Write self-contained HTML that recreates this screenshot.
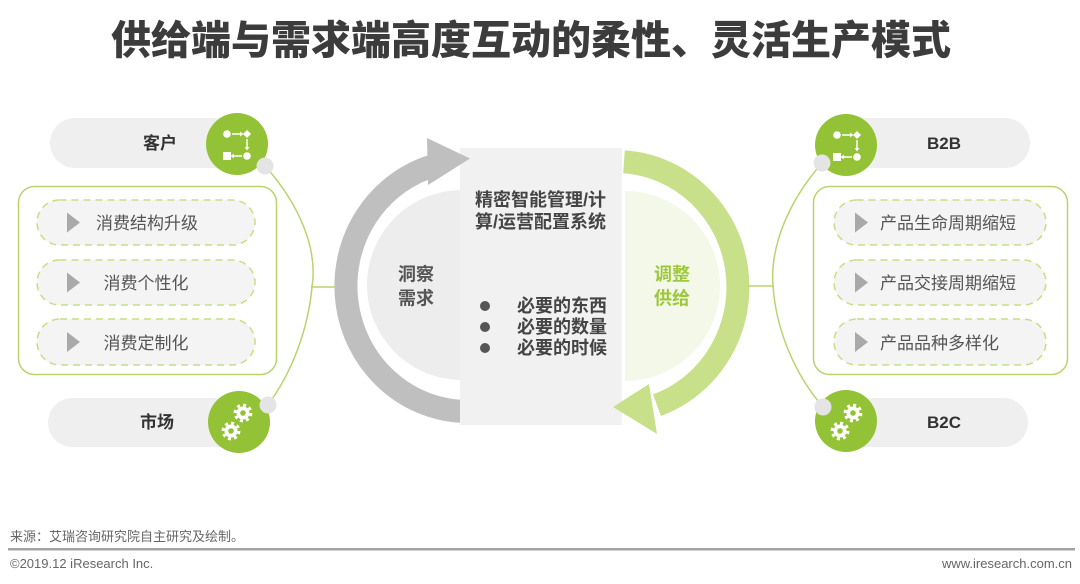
<!DOCTYPE html>
<html>
<head>
<meta charset="utf-8">
<style>
html,body{margin:0;padding:0;background:#fff;}
body{width:1080px;height:584px;overflow:hidden;}
svg{display:block;}
text{font-family:"Liberation Sans","Noto Sans CJK SC",sans-serif;}
</style>
</head>
<body>
<svg width="1080" height="584" viewBox="0 0 1080 584" xmlns="http://www.w3.org/2000/svg">
  <!-- Title -->
  <text x="531" y="54" text-anchor="middle" font-size="40" font-weight="900" fill="#3c3c3c">供给端与需求端高度互动的柔性、灵活生产模式</text>

  <!-- ========== LEFT SIDE ========== -->
  <path d="M265 166 C300 205 318 250 312 287 C308 330 292 372 268 405" fill="none" stroke="#b8d56c" stroke-width="1.5"/>
  <line x1="311" y1="287" x2="337" y2="287" stroke="#b8d56c" stroke-width="1.5"/>

  <rect x="50" y="118" width="195" height="50" rx="25" fill="#efefef"/>
  <rect x="48" y="398" width="197" height="49" rx="24.5" fill="#efefef"/>
  <text x="160" y="149" text-anchor="middle" font-size="17" font-weight="bold" fill="#333">客户</text>
  <text x="157" y="428" text-anchor="middle" font-size="17" font-weight="bold" fill="#333">市场</text>

  <circle cx="237" cy="144" r="31" fill="#93c236"/>
  <circle cx="239" cy="422" r="31" fill="#93c236"/>

  <!-- flow icon left -->
  <g fill="#fff" stroke="#fff">
    <circle cx="227" cy="134" r="3.8" stroke="none"/>
    <line x1="232" y1="134" x2="240" y2="134" stroke-width="1.5"/>
    <polygon points="240,131.6 243.5,134 240,136.4" stroke="none"/>
    <polygon points="247,130 251,134 247,138 243,134" stroke="none"/>
    <line x1="247" y1="139" x2="247" y2="147" stroke-width="1.5"/>
    <polygon points="244.6,147 249.4,147 247,150.5" stroke="none"/>
    <rect x="223" y="152" width="8" height="8" stroke="none"/>
    <line x1="234" y1="156" x2="242" y2="156" stroke-width="1.5"/>
    <polygon points="234,153.6 230.5,156 234,158.4" stroke="none"/>
    <circle cx="247" cy="156" r="3.8" stroke="none"/>
  </g>

  <!-- gears left -->
  <g>
    <circle cx="243" cy="413" r="6.5" fill="#fff"/>
    <circle cx="243" cy="413" r="7.8" fill="none" stroke="#fff" stroke-width="3.2" stroke-dasharray="3 3.1"/>
    <circle cx="243" cy="413" r="2.8" fill="#93c236"/>
    <circle cx="231" cy="431" r="6.5" fill="#fff"/>
    <circle cx="231" cy="431" r="7.8" fill="none" stroke="#fff" stroke-width="3.2" stroke-dasharray="3 3.1"/>
    <circle cx="231" cy="431" r="2.8" fill="#93c236"/>
  </g>

  <circle cx="265" cy="166" r="8.5" fill="#e4e4e4"/>
  <circle cx="268" cy="405" r="8.5" fill="#e4e4e4"/>

  <rect x="18.5" y="186.5" width="258" height="188" rx="16" fill="#fff" stroke="#b8d56c" stroke-width="1.5"/>
  <g fill="#f4f4f4" stroke="#c7de85" stroke-width="1.5" stroke-dasharray="7 5">
    <rect x="37" y="200" width="218" height="45" rx="22.5"/>
    <rect x="37" y="260" width="218" height="45" rx="22.5"/>
    <rect x="37" y="319" width="218" height="46" rx="23"/>
  </g>
  <g fill="#a9a9a9">
    <polygon points="67,212.5 80,222.5 67,232.5"/>
    <polygon points="67,272.5 80,282.5 67,292.5"/>
    <polygon points="67,332 80,342 67,352"/>
  </g>
  <g font-size="17" fill="#555" text-anchor="middle">
    <text x="147" y="229">消费结构升级</text>
    <text x="146" y="289">消费个性化</text>
    <text x="146" y="349">消费定制化</text>
  </g>

  <!-- ========== CENTER ========== -->
  <path d="M462 190 A95 95 0 0 0 462 380 Z" fill="#ededed"/>
  <path d="M625 191 A95 95 0 0 1 625 381 Z" fill="#f3f8e8"/>

  <path d="M468 411.5 A122 125.5 0 0 1 437 164.6" fill="none" stroke="#bfbfbf" stroke-width="23"/>
  <path d="M624 161.8 A122 125.5 0 0 1 657 405.2" fill="none" stroke="#c9e08a" stroke-width="23"/>

  <rect x="460" y="148" width="162" height="277" fill="#f1f1f1"/>

  <polygon points="427,138 470,158.5 428,185" fill="#bfbfbf"/>
  <polygon points="649,384 613,407 657,434" fill="#c9e08a"/>

  <g font-size="18" font-weight="bold" fill="#444">
    <text x="475" y="206">精密智能管理/计</text>
    <text x="475" y="228">算/运营配置系统</text>
    <text x="517" y="312">必要的东西</text>
    <text x="517" y="333">必要的数量</text>
    <text x="517" y="354">必要的时候</text>
  </g>
  <g fill="#555">
    <circle cx="485" cy="306" r="5"/>
    <circle cx="485" cy="327" r="5"/>
    <circle cx="485" cy="348" r="5"/>
  </g>

  <g font-size="18" font-weight="bold" text-anchor="middle">
    <text x="416" y="280.5" fill="#555">洞察</text>
    <text x="416" y="304.5" fill="#555">需求</text>
    <text x="672" y="280.5" fill="#9dc83c">调整</text>
    <text x="672" y="304.5" fill="#9dc83c">供给</text>
  </g>

  <!-- ========== RIGHT SIDE ========== -->
  <path d="M822 163 C787 203 770 248 773 286 C776 328 793 372 823 407" fill="none" stroke="#b8d56c" stroke-width="1.5"/>
  <line x1="748" y1="286" x2="774" y2="286" stroke="#b8d56c" stroke-width="1.5"/>

  <rect x="840" y="118" width="190" height="50" rx="25" fill="#efefef"/>
  <rect x="840" y="398" width="188" height="49" rx="24.5" fill="#efefef"/>
  <text x="944" y="149" text-anchor="middle" font-size="17" font-weight="bold" fill="#333">B2B</text>
  <text x="944" y="428" text-anchor="middle" font-size="17" font-weight="bold" fill="#333">B2C</text>

  <circle cx="846" cy="145" r="31" fill="#93c236"/>
  <circle cx="846" cy="421" r="31" fill="#93c236"/>

  <g fill="#fff" stroke="#fff">
    <circle cx="837" cy="135" r="3.8" stroke="none"/>
    <line x1="842" y1="135" x2="850" y2="135" stroke-width="1.5"/>
    <polygon points="850,132.6 853.5,135 850,137.4" stroke="none"/>
    <polygon points="857,131 861,135 857,139 853,135" stroke="none"/>
    <line x1="857" y1="140" x2="857" y2="148" stroke-width="1.5"/>
    <polygon points="854.6,148 859.4,148 857,151.5" stroke="none"/>
    <rect x="833" y="153" width="8" height="8" stroke="none"/>
    <line x1="844" y1="157" x2="852" y2="157" stroke-width="1.5"/>
    <polygon points="844,154.6 840.5,157 844,159.4" stroke="none"/>
    <circle cx="857" cy="157" r="3.8" stroke="none"/>
  </g>

  <g>
    <circle cx="853" cy="413" r="6.5" fill="#fff"/>
    <circle cx="853" cy="413" r="7.8" fill="none" stroke="#fff" stroke-width="3.2" stroke-dasharray="3 3.1"/>
    <circle cx="853" cy="413" r="2.8" fill="#93c236"/>
    <circle cx="840" cy="431" r="6.5" fill="#fff"/>
    <circle cx="840" cy="431" r="7.8" fill="none" stroke="#fff" stroke-width="3.2" stroke-dasharray="3 3.1"/>
    <circle cx="840" cy="431" r="2.8" fill="#93c236"/>
  </g>

  <circle cx="822" cy="163" r="8.5" fill="#e4e4e4"/>
  <circle cx="823" cy="407" r="8.5" fill="#e4e4e4"/>

  <rect x="813.5" y="186.5" width="254" height="188" rx="16" fill="#fff" stroke="#b8d56c" stroke-width="1.5"/>
  <g fill="#f4f4f4" stroke="#c7de85" stroke-width="1.5" stroke-dasharray="7 5">
    <rect x="834" y="200" width="212" height="45" rx="22.5"/>
    <rect x="834" y="260" width="212" height="45" rx="22.5"/>
    <rect x="834" y="319" width="212" height="46" rx="23"/>
  </g>
  <g fill="#a9a9a9">
    <polygon points="855,212.5 868,222.5 855,232.5"/>
    <polygon points="855,272.5 868,282.5 855,292.5"/>
    <polygon points="855,332 868,342 855,352"/>
  </g>
  <g font-size="17" fill="#555">
    <text x="880" y="229">产品生命周期缩短</text>
    <text x="880" y="289">产品交接周期缩短</text>
    <text x="880" y="349">产品品种多样化</text>
  </g>

  <!-- ========== FOOTER ========== -->
  <text x="10" y="541" font-size="13" fill="#666">来源：艾瑞咨询研究院自主研究及绘制。</text>
  <rect x="8" y="548" width="1067" height="2.5" fill="#a3a3a3"/>
  <text x="10" y="568" font-size="13" fill="#666">©2019.12 iResearch Inc.</text>
  <text x="1072" y="568" font-size="13" fill="#666" text-anchor="end">www.iresearch.com.cn</text>
</svg>
</body>
</html>
